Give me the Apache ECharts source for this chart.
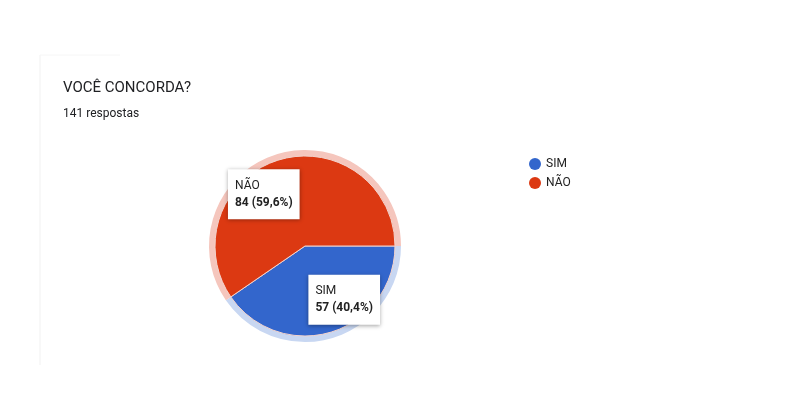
<!DOCTYPE html>
<html>
<head>
<meta charset="utf-8">
<script src="https://cdn.jsdelivr.net/npm/echarts@6/dist/echarts.min.js"></script>
<style>
html,body{margin:0;padding:0;background:#fff;}
#chart{width:800px;height:420px;}
</style>
</head>
<body>
<div id="chart"></div>
<script>
var titleText = 'VOCÊ CONCORDA?';
var subtitleText = '141 respostas';
var categories = ['SIM', 'NÃO'];
var values = [57, 84];
var colors = ['#3366cc', '#dc3912'];
var haloColors = ['#c8d7f2', '#f5c6bd'];

var total = values.reduce(function (a, b) { return a + b; }, 0);
function pct(v) { return (v / total * 100).toFixed(1).replace('.', ','); }

var mainData = categories.map(function (c, i) {
  return { name: c, value: values[i], itemStyle: { color: colors[i] } };
});
var haloData = categories.map(function (c, i) {
  return { name: c, value: values[i], itemStyle: { color: haloColors[i] } };
});
var labelOffsets = [[25, 8], [-27, -6]];
mainData.forEach(function (d, i) { d.label = { offset: labelOffsets[i] }; });

var chart = echarts.init(document.getElementById('chart'));
chart.setOption({
  animation: false,
  backgroundColor: '#ffffff',
  title: {
    text: titleText,
    subtext: subtitleText,
    left: 58,
    top: 76,
    itemGap: 12,
    textStyle: { fontFamily: 'Roboto', fontSize: 15, fontWeight: 'normal', color: '#202124' },
    subtextStyle: { fontFamily: 'Roboto', fontSize: 12, color: '#202124' }
  },
  graphic: [
    { type: 'line', shape: { x1: 40, y1: 55, x2: 40, y2: 365 }, style: { stroke: '#f1f1f1', lineWidth: 1 }, silent: true },
    { type: 'line', shape: { x1: 40, y1: 55, x2: 120, y2: 55 }, style: { stroke: '#f6f6f6', lineWidth: 1 }, silent: true }
  ],
  legend: {
    orient: 'vertical',
    left: 524,
    top: 153,
    icon: 'circle',
    itemWidth: 12,
    itemHeight: 12,
    itemGap: 7,
    data: categories,
    itemStyle: { borderWidth: 0 },
    textStyle: { fontFamily: 'Roboto', fontSize: 12, color: '#222222' }
  },
  series: [
    {
      type: 'pie',
      name: 'main',
      center: [305, 246],
      radius: [0, 90],
      startAngle: 0,
      clockwise: true,
      z: 2,
      itemStyle: { borderColor: '#f3d3cc', borderWidth: 1 },
      emphasis: { disabled: true },
      labelLine: { show: false },
      label: {
        show: true,
        position: 'inside',
        backgroundColor: '#ffffff',
        padding: [8, 7, 8, 7],
        shadowColor: 'rgba(0,0,0,0.35)',
        shadowBlur: 4,
        shadowOffsetY: 1,
        formatter: function (p) {
          return '{n|' + p.name + '}\n{v|' + p.value + ' (' + pct(p.value) + '%)}';
        },
        rich: {
          n: { fontFamily: 'Roboto', fontSize: 12, color: '#222222', lineHeight: 17, align: 'left' },
          v: { fontFamily: 'Roboto', fontSize: 12, fontWeight: 'bold', color: '#222222', lineHeight: 17, align: 'left' }
        }
      },
      data: mainData
    },
    {
      type: 'pie',
      name: 'halo',
      center: [305, 246],
      radius: [90, 96],
      startAngle: 0,
      clockwise: true,
      silent: true,
      z: 1,
      legendHoverLink: false,
      label: { show: false },
      labelLine: { show: false },
      itemStyle: { borderWidth: 0 },
      emphasis: { disabled: true },
      data: haloData
    }
  ]
});
</script>
</body>
</html>
